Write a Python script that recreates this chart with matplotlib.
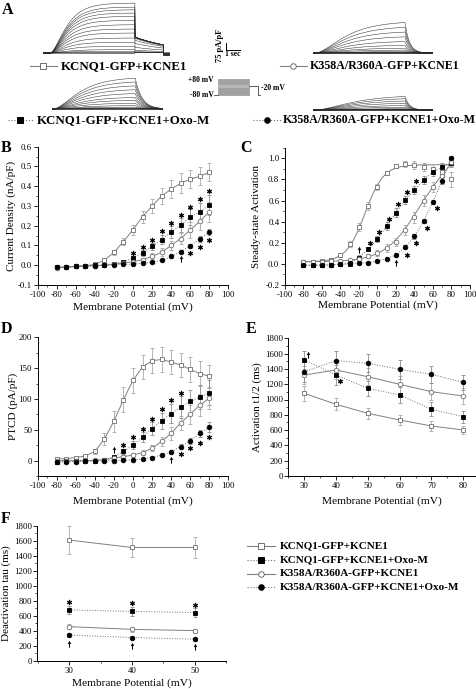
import numpy as np
import matplotlib
matplotlib.use("Agg")
import matplotlib.pyplot as plt
from matplotlib.ticker import MultipleLocator, FormatStrFormatter
from matplotlib.patches import Rectangle

plt.rcParams['font.family'] = ['Liberation Serif', 'DejaVu Serif']
plt.rcParams['axes.unicode_minus'] = False
plt.rcParams['mathtext.fontset'] = 'stix'

W, H = 477, 689

# ---------------- data ----------------
volts = [-80, -70, -60, -50, -40, -30, -20, -10, 0, 10, 20, 30, 40, 50, 60, 70, 80]

# B: current density (nA/pF)
b_wt = [-0.010, -0.010, -0.005, -0.003, 0.005, 0.025, 0.065, 0.120, 0.180, 0.245, 0.300, 0.350, 0.385, 0.415, 0.435, 0.450, 0.470]
b_wt_err = [0.003, 0.003, 0.003, 0.003, 0.005, 0.008, 0.012, 0.020, 0.025, 0.030, 0.035, 0.040, 0.045, 0.050, 0.045, 0.045, 0.045]
b_oxo = [-0.010, -0.010, -0.005, -0.003, 0.000, 0.002, 0.008, 0.018, 0.037, 0.063, 0.095, 0.130, 0.167, 0.203, 0.245, 0.270, 0.305]
b_oxo_err = [0.003, 0.003, 0.003, 0.003, 0.003, 0.003, 0.005, 0.007, 0.010, 0.015, 0.020, 0.025, 0.030, 0.035, 0.040, 0.045, 0.050]
b_mut = [-0.012, -0.010, -0.006, -0.004, -0.002, 0.000, 0.005, 0.012, 0.018, 0.028, 0.045, 0.065, 0.100, 0.135, 0.178, 0.222, 0.270]
b_mut_err = [0.003, 0.003, 0.003, 0.003, 0.003, 0.003, 0.004, 0.005, 0.007, 0.010, 0.015, 0.020, 0.025, 0.030, 0.040, 0.045, 0.050]
b_mutoxo = [-0.010, -0.008, -0.005, -0.004, -0.003, 0.000, 0.002, 0.004, 0.006, 0.010, 0.015, 0.025, 0.045, 0.068, 0.098, 0.132, 0.168]
b_mutoxo_err = [0.003, 0.003, 0.003, 0.003, 0.003, 0.003, 0.003, 0.003, 0.003, 0.004, 0.004, 0.005, 0.006, 0.008, 0.012, 0.015, 0.015]
b_star_x = [0, 10, 20, 30, 40, 50, 60, 70, 80, 60, 70, 80]
b_star_y = [0.060, 0.094, 0.130, 0.175, 0.215, 0.254, 0.296, 0.333, 0.377, 0.064, 0.094, 0.127]
b_dag_x = [50]
b_dag_y = [0.030]

# C: steady-state activation
c_wt = [0.02, 0.02, 0.025, 0.04, 0.08, 0.19, 0.35, 0.55, 0.73, 0.86, 0.93, 0.945, 0.935, 0.92, 0.90, 0.87, 0.80]
c_wt_err = [0.01, 0.01, 0.01, 0.01, 0.015, 0.03, 0.04, 0.04, 0.03, 0.02, 0.02, 0.03, 0.04, 0.04, 0.05, 0.05, 0.07]
c_oxo = [-0.015, -0.015, -0.012, -0.01, -0.005, 0.0, 0.06, 0.14, 0.235, 0.36, 0.485, 0.605, 0.70, 0.795, 0.875, 0.915, 0.96]
c_oxo_err = [0.01, 0.01, 0.01, 0.01, 0.01, 0.01, 0.02, 0.02, 0.03, 0.04, 0.04, 0.04, 0.04, 0.04, 0.04, 0.04, 0.04]
c_mut = [0.02, 0.02, 0.02, 0.025, 0.03, 0.035, 0.05, 0.075, 0.105, 0.15, 0.21, 0.32, 0.44, 0.60, 0.73, 0.83, 0.97]
c_mut_err = [0.01, 0.01, 0.01, 0.01, 0.01, 0.01, 0.02, 0.02, 0.03, 0.04, 0.04, 0.05, 0.05, 0.05, 0.05, 0.05, 0.04]
c_mutoxo = [-0.01, -0.01, -0.01, -0.01, 0.0, 0.005, 0.01, 0.01, 0.03, 0.05, 0.085, 0.16, 0.26, 0.41, 0.59, 0.79, 1.0]
c_mutoxo_err = [0.01, 0.01, 0.01, 0.01, 0.01, 0.01, 0.01, 0.01, 0.01, 0.01, 0.02, 0.02, 0.02, 0.02, 0.02, 0.03, 0.02]
fit_v = [-80, -75, -70, -65, -60, -55, -50, -45, -40, -35, -30, -25, -20, -15, -10, -5, 0,
         5, 10, 15, 20, 25, 30, 35, 40, 45, 50, 55, 60, 65, 70, 75, 80]
fit_wt = [0.022, 0.022, 0.023, 0.025, 0.029, 0.034, 0.043, 0.058, 0.081, 0.116, 0.168, 0.241, 0.335,
          0.446, 0.561, 0.665, 0.750, 0.815, 0.860, 0.890, 0.909, 0.921, 0.928, 0.933, 0.935, 0.937,
          0.938, 0.939, 0.939, 0.940, 0.940, 0.940, 0.940]
fit_mut = [0.021, 0.021, 0.022, 0.022, 0.023, 0.024, 0.025, 0.027, 0.029, 0.032, 0.036, 0.041, 0.048,
           0.056, 0.067, 0.082, 0.100, 0.123, 0.151, 0.187, 0.229, 0.278, 0.334, 0.397, 0.464, 0.534,
           0.602, 0.668, 0.729, 0.790, 0.845, 0.900, 0.950]
c_star_x = [-8, 2, 12, 22, 32, 42, 32, 42, 53, 64]
c_star_y = [0.20, 0.305, 0.43, 0.57, 0.685, 0.79, 0.085, 0.195, 0.337, 0.533]
c_dag_x = [-20, 20]
c_dag_y = [0.13, 0.011]

# D: PTCD (pA/pF)
d_wt = [3, 3, 5, 7.5, 15, 35, 64, 99, 130, 152, 162, 164, 160, 155, 148, 141, 137]
d_wt_err = [1, 1, 2, 2, 4, 10, 17, 20, 20, 20, 20, 20, 20, 20, 20, 20, 18]
d_oxo = [-1.5, -1, -1, -0.5, 0, 1, 6.5, 15, 25, 38, 52, 65, 76, 87, 96, 103, 110]
d_oxo_err = [1, 1, 1, 1, 1, 2, 3, 4, 6, 8, 10, 13, 15, 18, 18, 20, 20]
d_mut = [0, 0, 0, 0, 0.5, 1.5, 4, 6.5, 9, 13, 20, 31, 44, 61, 75, 90, 101]
d_mut_err = [1, 1, 1, 1, 1, 1, 2, 2, 3, 4, 5, 7, 10, 12, 15, 18, 17]
d_mutoxo = [-2, -2, -1.5, -1, -1, -0.5, 0, 0.5, 1, 2.7, 5, 9, 14.6, 22.7, 32.4, 44, 54]
d_mutoxo_err = [1, 1, 1, 1, 1, 1, 1, 1, 1, 1, 2, 2, 3, 4, 5, 6, 8]
d_star_x = [-10, 0, 10, 20, 30, 40, 50, 50, 60, 70, 80]
d_star_y = [25, 38, 51, 67, 83, 98, 110, 11, 20, 28, 39]
d_dag_x = [-20, 40]
d_dag_y = [17, 1]

# E: activation t1/2 (ms)
e_v = [30, 40, 50, 60, 70, 80]
e_wt = [1080, 937, 819, 732, 654, 601]
e_wt_err = [100, 80, 75, 65, 60, 50]
e_oxo = [1516, 1320, 1146, 1059, 871, 775]
e_oxo_err = [120, 130, 100, 100, 90, 80]
e_mut = [1320, 1386, 1298, 1198, 1102, 1046]
e_mut_err = [120, 120, 110, 110, 110, 100]
e_mutoxo = [1364, 1508, 1473, 1394, 1329, 1224]
e_mutoxo_err = [130, 120, 120, 120, 110, 100]
e_star_x = [41.3]
e_star_y = [1242]
e_dag_x = [31.3]
e_dag_y = [1582]

# F: deactivation tau (ms)
f_v = [30, 40, 50]
f_wt = [1609, 1510, 1510]
f_wt_err = [190, 130, 135]
f_oxo = [680, 660, 645]
f_oxo_err = [50, 60, 60]
f_mut = [457, 421, 404]
f_mut_err = [30, 30, 25]
f_mutoxo = [346, 312, 290]
f_mutoxo_err = [25, 25, 20]
f_star_x = [30, 40, 50]
f_star_y = [790, 776, 745]
f_dag_x = [30, 40, 50]
f_dag_y = [230, 205, 180]

# A: end-of-step amplitudes of the example traces (pA/pF)
tl_amp = [-3, 0, 8, 19, 37, 75, 120, 168, 224, 269, 317, 366, 411, 448, 485, 515, 560]
bl_amp = [-2, -1, 0, 0, 2, 5, 11, 22, 39, 67, 101, 134, 179, 224, 269, 314, 358]
tr_amp = [-3, -2, -1, 0, 0, 2, 4, 8, 17, 34, 56, 90, 134, 190, 246, 302, 358]
br_amp = [-2, -1, 0, 0, 0, 1, 2, 4, 6, 8, 17, 34, 56, 84, 112, 140, 168]

names = ['KCNQ1-GFP+KCNE1', 'KCNQ1-GFP+KCNE1+Oxo-M',
         'K358A/R360A-GFP+KCNE1', 'K358A/R360A-GFP+KCNE1+Oxo-M']

# ---------------- drawing ----------------
fig = plt.figure(figsize=(W / 100, H / 100), dpi=100)

OPEN = dict(mfc='white', mec='#6e6e6e', color='#808080', ls='-', ecolor='#a8a8a8')
FILL = dict(mfc='black', mec='black', color='#707070', ls=':', ecolor='#8c8c8c')


def px_axes(left, right, top, bottom, **kw):
    return fig.add_axes([left / W, 1 - bottom / H, (right - left) / W, (bottom - top) / H], **kw)


def series(ax, x, y, err, marker, filled, line=True):
    st = FILL if filled else OPEN
    ax.errorbar(x, y, yerr=err, fmt='none', ecolor=st['ecolor'], elinewidth=0.6,
                capsize=1.4, capthick=0.6, zorder=2)
    ax.plot(x, y, ls=st['ls'] if line else 'none', color=st['color'], lw=0.7,
            marker=marker, ms=3.3, mfc=st['mfc'], mec=st['mec'], mew=0.6, zorder=3)


def marks(ax, x, y, sym, ms=3.6):
    ax.plot(x, y, ls='none', marker=sym, ms=ms, mfc='black', mec='black', mew=0.4,
            zorder=4, clip_on=False)


def style(ax, xlim, ylim, xmaj, xmin, ymaj, ymin, yfmt, ylabel, ylab_x, xlab_y):
    ax.set_xlim(xlim)
    ax.set_ylim(ylim)
    ax.patch.set_alpha(0)
    for s in ['top', 'right']:
        ax.spines[s].set_visible(False)
    for s in ['left', 'bottom']:
        ax.spines[s].set_linewidth(0.7)
    ax.xaxis.set_major_locator(MultipleLocator(xmaj))
    ax.xaxis.set_minor_locator(MultipleLocator(xmin))
    ax.yaxis.set_major_locator(MultipleLocator(ymaj))
    ax.yaxis.set_minor_locator(MultipleLocator(ymin))
    ax.yaxis.set_major_formatter(FormatStrFormatter(yfmt))
    ax.tick_params(which='major', direction='out', length=2.6, width=0.6, labelsize=6.3, pad=1.5)
    ax.tick_params(which='minor', direction='out', length=1.4, width=0.5)
    ax.set_ylabel(ylabel, fontsize=8.0, va='center')
    ax.yaxis.set_label_coords(ylab_x, 0.5)
    ax.set_xlabel('Membrane Potential (mV)', fontsize=8.2, va='center')
    ax.xaxis.set_label_coords(0.5, xlab_y)


# overlay in pixel coordinates
ov = fig.add_axes([0, 0, 1, 1], zorder=-1)
ov.set_xlim(0, W)
ov.set_ylim(H, 0)
ov.axis('off')

# ---- panel B ----
axB = px_axes(37.7, 228.3, 146.7, 285)
series(axB, volts, b_wt, b_wt_err, 's', False)
series(axB, volts, b_oxo, b_oxo_err, 's', True)
series(axB, volts, b_mut, b_mut_err, 'o', False)
series(axB, volts, b_mutoxo, b_mutoxo_err, 'o', True)
marks(axB, b_star_x, b_star_y, r'$\ast$')
marks(axB, b_dag_x, b_dag_y, r'$\dagger$', 4.3)
style(axB, (-100, 100), (-0.1, 0.6), 20, 10, 0.1, 0.05, '%.1f',
      'Current Density (nA/pF)', -0.137, -0.157)

# ---- panel C ----
axC = px_axes(285, 470, 147.8, 285)
axC.plot(fit_v, fit_wt, color='#808080', lw=0.7, zorder=2)
axC.plot(fit_v, fit_mut, color='#808080', lw=0.7, zorder=2)
series(axC, volts, c_wt, c_wt_err, 's', False, line=False)
series(axC, volts, c_oxo, c_oxo_err, 's', True)
series(axC, volts, c_mut, c_mut_err, 'o', False, line=False)
series(axC, volts, c_mutoxo, c_mutoxo_err, 'o', True)
marks(axC, c_star_x, c_star_y, r'$\ast$')
marks(axC, c_dag_x, c_dag_y, r'$\dagger$', 4.3)
style(axC, (-100, 100), (-0.2, 1.1), 20, 10, 0.2, 0.1, '%.1f',
      'Steady-state Activation', -0.153, -0.146)

# ---- panel D ----
axD = px_axes(37.7, 228.3, 337.3, 476)
series(axD, volts, d_wt, d_wt_err, 's', False)
series(axD, volts, d_oxo, d_oxo_err, 's', True)
series(axD, volts, d_mut, d_mut_err, 'o', False)
series(axD, volts, d_mutoxo, d_mutoxo_err, 'o', True)
marks(axD, d_star_x, d_star_y, r'$\ast$')
marks(axD, d_dag_x, d_dag_y, r'$\dagger$', 4.3)
style(axD, (-100, 100), (-25, 200), 20, 10, 50, 25, '%d',
      'PTCD (pA/pF)', -0.128, -0.18)

# ---- panel E ----
axE = px_axes(288.4, 476, 338.3, 476)
series(axE, e_v, e_wt, e_wt_err, 's', False)
series(axE, e_v, e_oxo, e_oxo_err, 's', True)
series(axE, e_v, e_mut, e_mut_err, 'o', False)
series(axE, e_v, e_mutoxo, e_mutoxo_err, 'o', True)
marks(axE, e_star_x, e_star_y, r'$\ast$')
marks(axE, e_dag_x, e_dag_y, r'$\dagger$', 4.3)
style(axE, (25, 84), (0, 1800), 10, 5, 200, 100, '%d',
      'Activation t1/2 (ms)', -0.169, -0.18)

# ---- panel F ----
axF = px_axes(37.5, 226.5, 525.7, 661)
series(axF, f_v, f_wt, f_wt_err, 's', False)
series(axF, f_v, f_oxo, f_oxo_err, 's', True)
series(axF, f_v, f_mut, f_mut_err, 'o', False)
series(axF, f_v, f_mutoxo, f_mutoxo_err, 'o', True)
marks(axF, f_star_x, f_star_y, r'$\ast$')
marks(axF, f_dag_x, f_dag_y, r'$\dagger$', 4.3)
style(axF, (25, 55), (0, 1800), 10, 5, 200, 100, '%d',
      'Deactivation tau (ms)', -0.167, -0.163)

# ---- panel A: example current traces ----
PPA = 1 / 11.2  # px per pA/pF


def traces(x0, pps, base, amps, tau, t_lo, t_hi, tail):
    ax = px_axes(x0 + t_lo * pps, x0 + t_hi * pps, base - 600 * PPA, base + 30 * PPA)
    ax.set_xlim(t_lo, t_hi)
    ax.set_ylim(-30, 600)
    ax.axis('off')
    t = np.linspace(t_lo, t_hi, 700)
    for i, a in enumerate(amps):
        y = np.zeros_like(t)
        on = (t >= 0) & (t < 6)
        y[on] = a * (1 - np.exp(-t[on] / tau)) ** 2
        a_end = a * (1 - np.exp(-6 / tau)) ** 2
        tl = (t >= 6) & (t < 8)
        if tail == 'slow':
            y[tl] = 190 * fit_wt[2 * i] * np.exp(-(t[tl] - 6) / 3.0)
            post = t >= 8
            y[post] = -25 * fit_wt[2 * i]
        else:
            y[t >= 6] = a_end * np.exp(-(t[t >= 6] - 6) / tail)
        ax.plot(t, y, color='#2a2a2a', lw=0.35)
    return ax


traces(50, 14.17, 53, tl_amp, 0.9, -0.5, 8.5, 'slow')
traces(53, 13.7, 109, bl_amp, 1.5, -0.1, 8.04, 0.5)
traces(315, 15, 53, tr_amp, 1.6, -0.1, 7.87, 0.3)
traces(315, 15, 110, br_amp, 2.0, -0.1, 7.87, 0.3)


# legend samples
def sample(x1, x2, y, marker, filled, xt, text, fs):
    st = FILL if filled else OPEN
    ov.plot([x1, x2], [y, y], ls=st['ls'], color=st['color'], lw=0.8)
    ov.plot([(x1 + x2) / 2], [y], marker=marker, ms=4.0, mfc=st['mfc'], mec=st['mec'], mew=0.7)
    ov.text(xt, y, text, fontsize=fs, fontweight='bold', va='center', ha='left')


sample(30, 57, 66, 's', False, 61, names[0], 9.3)
sample(8, 33, 120, 's', True, 37, names[1], 9.3)
sample(280, 307, 66, 'o', False, 310, names[2], 8.6)
sample(253, 281, 120, 'o', True, 283, names[3], 8.6)

# scale bar
ov.plot([225.7, 225.7, 240], [43.3, 50, 50], color='black', lw=0.7)
ov.text(220, 45, '75 pA/pF', rotation=90, fontsize=6.0, fontweight='bold', ha='center', va='center')
ov.text(233, 54, '1 sec', fontsize=5.5, fontweight='bold', ha='center', va='center')

# voltage protocol
ov.add_patch(Rectangle((218.3, 79), 31, 15.5, facecolor='#a2a2a2', edgecolor='#8a8a8a', lw=0.4))
ov.add_patch(Rectangle((218.3, 84.5), 31, 3.5, facecolor='#b8b8b8', edgecolor='none'))
ov.plot([214, 218.3], [94.5, 94.5], color='#444444', lw=0.6)
ov.plot([249.3, 258, 258, 260.5], [86, 86, 94.5, 94.5], color='#444444', lw=0.6)
ov.text(213.5, 79.5, '+80 mV', fontsize=5.5, fontweight='bold', ha='right', va='center')
ov.text(214, 95, '-80 mV', fontsize=5.5, fontweight='bold', ha='right', va='center')
ov.text(261.5, 87.5, '-20 mV', fontsize=5.5, fontweight='bold', ha='left', va='center')

# legend for F
for (yy, mk, fl, nm) in zip([546, 560, 573.5, 587], ['s', 's', 'o', 'o'],
                            [False, True, False, True], names):
    sample(247, 275, yy, mk, fl, 280, nm, 8.0)

# panel letters
for lab, x, y in [('A', 2, 2), ('B', 1, 140), ('C', 240, 140),
                  ('D', 1, 321), ('E', 246, 321), ('F', 1, 511)]:
    ov.text(x, y, lab, fontsize=11.5, fontweight='bold', ha='left', va='top')

fig.savefig('out.png', dpi=100)
